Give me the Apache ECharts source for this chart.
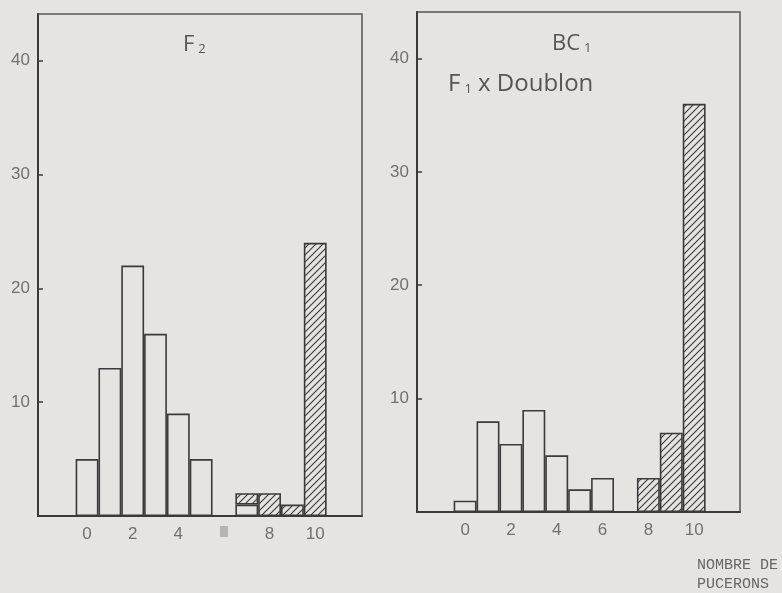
<!DOCTYPE html>
<html>
<head>
<meta charset="utf-8">
<script src="https://cdn.jsdelivr.net/npm/echarts@6/dist/echarts.min.js"></script>
<style>
  html, body { margin: 0; padding: 0; background: #e6e4e0; }
  #chart { width: 782px; height: 593px; }
</style>
</head>
<body>
<div id="chart"></div>
<script>
// nombre de pucerons (0..10) et effectifs de plantes
var counts = [0, 1, 2, 3, 4, 5, 6, 7, 8, 9, 10];
var f2Open = [5, 13, 22, 16, 9, 5, 0, 1, 0, 0, 0];
var f2Hatched = [0, 0, 0, 0, 0, 0, 0, 1, 2, 1, 24];
var bc1Open = [1, 8, 6, 9, 5, 2, 3, 0, 0, 0, 0];
var bc1Hatched = [0, 0, 0, 0, 0, 0, 0, 0, 3, 7, 36];
var xTicks = [0, 2, 4, 6, 8, 10];
var yTicks = [10, 20, 30, 40];

var ink = '#3a3a3a';
var paper = '#e6e4e0';
var labelGrey = '#707070';

// [effectif, nombre] so the stack runs on the value dimension
function pairs(vals) {
  return counts.map(function (c, i) { return [vals[i] || null, c]; });
}

// hachures obliques
var hatch = document.createElement('canvas');
hatch.width = 7;
hatch.height = 7;
var hc = hatch.getContext('2d');
hc.strokeStyle = ink;
hc.lineWidth = 1.1;
hc.beginPath();
hc.moveTo(0, 7); hc.lineTo(7, 0);
hc.moveTo(-3.5, 3.5); hc.lineTo(3.5, -3.5);
hc.moveTo(3.5, 10.5); hc.lineTo(10.5, 3.5);
hc.stroke();

function yAxis(idx) {
  return {
    type: 'value', gridIndex: idx, min: 0, max: 44.1,
    splitLine: { show: false },
    axisLine: { show: true, onZero: false, lineStyle: { color: ink, width: 2 } },
    axisTick: { show: true, inside: true, length: 5, customValues: yTicks, lineStyle: { color: ink, width: 1.5 } },
    axisLabel: { customValues: yTicks, margin: 8, fontSize: 17, color: labelGrey, fontFamily: 'Liberation Sans' }
  };
}

function xAxis(idx, min, max, fmt) {
  return {
    type: 'value', gridIndex: idx, min: min, max: max,
    splitLine: { show: false },
    axisLine: { show: true, onZero: false, lineStyle: { color: ink, width: 1.8 } },
    axisTick: { show: false },
    axisLabel: {
      customValues: xTicks, margin: 10, fontSize: 17, color: labelGrey, fontFamily: 'Liberation Sans',
      formatter: fmt,
      rich: { blk: { width: 8, height: 11, backgroundColor: '#b4b4b4' } }
    }
  };
}

function bars(idx, stack, vals, fill) {
  return {
    type: 'bar', xAxisIndex: idx, yAxisIndex: idx, stack: stack,
    data: pairs(vals), encode: { x: 1, y: 0 }, barWidth: '100%',
    itemStyle: { color: fill, borderColor: ink, borderWidth: 1.6 }
  };
}

var subRich = {
  m: { fontSize: 22, color: '#555', fontFamily: 'Open Sans', fontWeight: 'normal' },
  s: { fontSize: 13, color: '#555', fontFamily: 'Open Sans', fontWeight: 'normal', verticalAlign: 'bottom', padding: [0, 0, 0, 4] },
  l: { fontSize: 24, color: '#555', fontFamily: 'Open Sans', fontWeight: 'normal' }
};

var chart = echarts.init(document.getElementById('chart'));
chart.setOption({
  animation: false,
  backgroundColor: paper,
  title: [
    { text: '{m|F}{s|2}', left: 183, top: 34, padding: 0, textStyle: { fontWeight: 'normal', rich: subRich } },
    { text: '{m|BC}{s|1}', left: 552, top: 33, padding: 0, textStyle: { fontWeight: 'normal', rich: subRich } },
    { text: '{l|F}{s|1}{l| x Doublon}', left: 448, top: 72, padding: 0, textStyle: { fontWeight: 'normal', rich: subRich } }
  ],
  graphic: [{
    type: 'text', right: 4, top: 556,
    style: { text: 'NOMBRE DE\nPUCERONS', align: 'right', fontSize: 15, lineHeight: 19, fontFamily: 'Liberation Mono', fill: '#666' }
  }],
  grid: [
    { left: 38, top: 14, width: 324, height: 502, show: true, borderColor: '#555', borderWidth: 1.5 },
    { left: 417, top: 12, width: 323, height: 500, show: true, borderColor: '#555', borderWidth: 1.5 }
  ],
  xAxis: [
    xAxis(0, -2.15, 12.05, function (v) { return v === 6 ? '{blk| }' : String(v); }),
    xAxis(1, -2.1, 12.0, function (v) { return String(v); })
  ],
  yAxis: [yAxis(0), yAxis(1)],
  series: [
    bars(0, 'f2', f2Open, paper),
    bars(0, 'f2', f2Hatched, { image: hatch, repeat: 'repeat' }),
    bars(1, 'bc1', bc1Open, paper),
    bars(1, 'bc1', bc1Hatched, { image: hatch, repeat: 'repeat' })
  ]
});
</script>
</body>
</html>
